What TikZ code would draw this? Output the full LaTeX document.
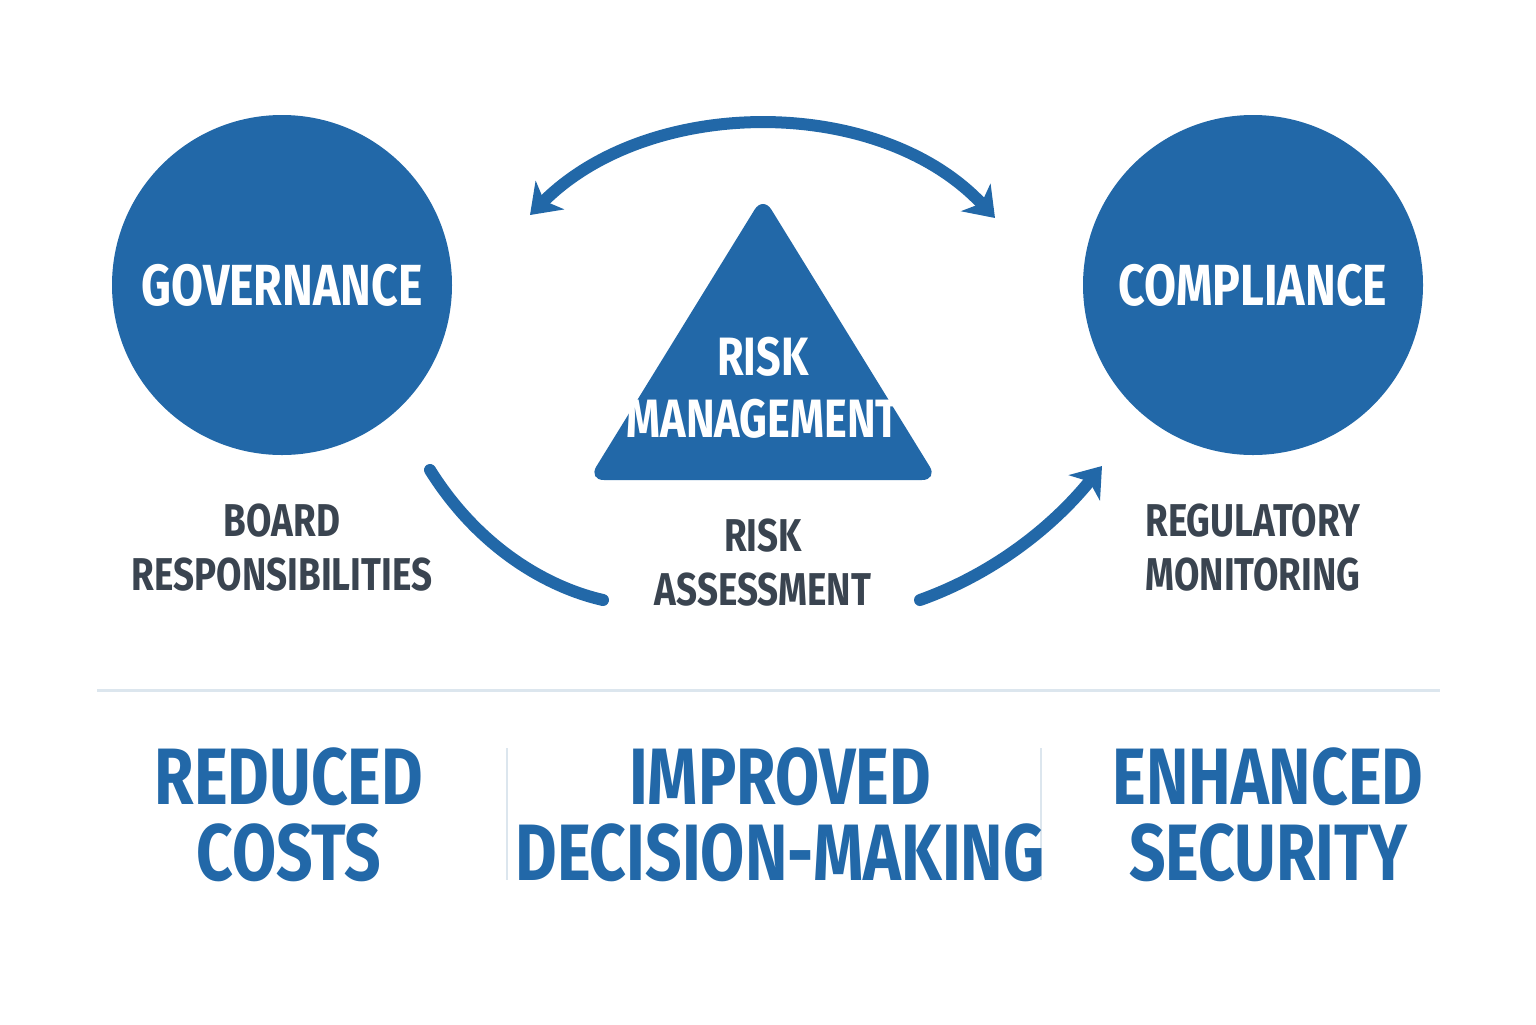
\documentclass[tikz,border=0pt]{standalone}
\usepackage{fontspec}
\setmainfont{Fira Sans}
\newfontfamily\headfont{Fira Sans}[FakeStretch=0.8]
\usepackage{tikz}
\usetikzlibrary{arrows.meta,shapes.geometric}

\definecolor{mainblue}{HTML}{2268A8}
\definecolor{darkgray}{HTML}{3A4450}
\definecolor{rulegray}{HTML}{DCE6EE}

\tikzset{
  pillar/.style={draw=none, circle, fill=mainblue, inner sep=0pt, minimum size=340pt/2},
  title/.style={text=white, font=\headfont\bfseries\fontsize{29}{31}\selectfont},
  sublabel/.style={text=darkgray, font=\headfont\bfseries\fontsize{23}{27}\selectfont, align=center},
  benefit/.style={text=mainblue, font=\headfont\bfseries\fontsize{40}{38}\selectfont, align=center},
  flow/.style={mainblue, line width=6pt, line cap=round},
  tip/.style={-{Stealth[length=14pt, width=20pt, inset=4pt]}}
}

\begin{document}
\begin{tikzpicture}[x=0.5pt, y=-0.5pt]
\useasboundingbox (0,0) rectangle (1536,1024);

\node[pillar] (gov) at (282,285) {};
\node[pillar] (comp) at (1253,285) {};
\node[title] at (gov) {GOVERNANCE};
\node[title] at (comp) {COMPLIANCE};

\fill[mainblue, rounded corners=8pt] (763,196) -- (938,480) -- (588,480) -- cycle;
\node[title, align=center, font=\headfont\bfseries\fontsize{27}{31}\selectfont] (risk) at (763,388) {RISK\\MANAGEMENT};

\node[sublabel] (board) at (282,548) {BOARD\\RESPONSIBILITIES};
\node[sublabel] (assess) at (763,563) {RISK\\ASSESSMENT};
\node[sublabel] (reg) at (1253,548) {REGULATORY\\MONITORING};

% arcs
\coordinate (topL) at (530,215);
\coordinate (topR) at (995,218);
\draw[flow, {Stealth[length=14pt, width=20pt, inset=4pt]}-{Stealth[length=14pt, width=20pt, inset=4pt]}]
  (topL) .. controls (650,95) and (880,95) .. (topR);
\coordinate (lowA) at (430,470);
\coordinate (lowB) at (603,600);
\draw[flow] (lowA) .. controls (480,550) and (550,588) .. (lowB);
\coordinate (lowC) at (920,600);
\coordinate (lowD) at (1102,466);
\draw[flow, tip] (lowC) .. controls (990,575) and (1050,530) .. (lowD);

% bottom row
\draw[rulegray, line width=1.5pt] (97,690) -- (1440,690);
\draw[rulegray, line width=1pt] (507,748) -- (507,880);
\draw[rulegray, line width=1pt] (1041,748) -- (1041,880);

\node[benefit] (costs) at (289,815) {REDUCED\\COSTS};
\node[benefit] (decide) at (780,815) {IMPROVED\\DECISION-MAKING};
\node[benefit] (secure) at (1268,815) {ENHANCED\\SECURITY};
\end{tikzpicture}
\end{document}
